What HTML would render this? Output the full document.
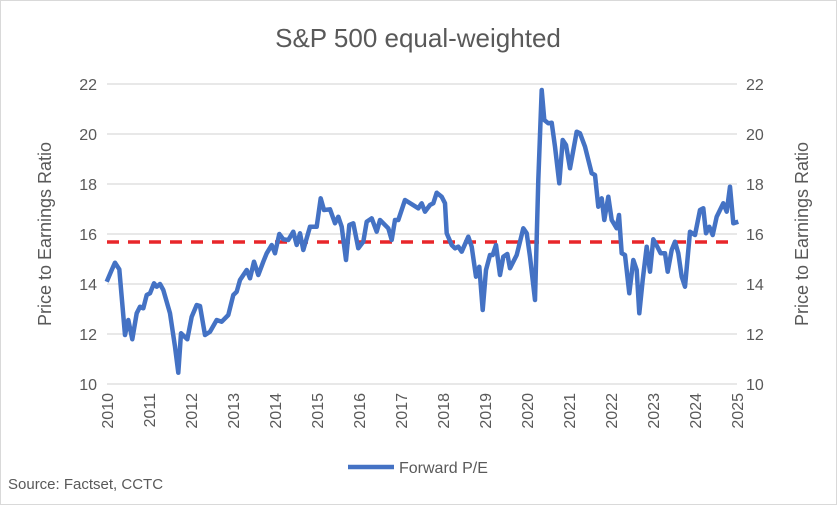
<!DOCTYPE html>
<html><head><meta charset="utf-8"><style>body{margin:0;background:#fff}svg{display:block}</style></head><body>
<svg width="837" height="505" xmlns="http://www.w3.org/2000/svg" font-family="Liberation Sans, sans-serif" fill="#595959">
<rect x="0.5" y="0.5" width="836" height="504" fill="#fff" stroke="#d9d9d9"/>
<text x="418" y="47" font-size="26" text-anchor="middle">S&amp;P 500 equal-weighted</text>
<g stroke="#d9d9d9" stroke-width="1.3">
<line x1="107" x2="737" y1="84" y2="84"/><line x1="107" x2="737" y1="134" y2="134"/><line x1="107" x2="737" y1="184" y2="184"/><line x1="107" x2="737" y1="234" y2="234"/><line x1="107" x2="737" y1="284" y2="284"/><line x1="107" x2="737" y1="334" y2="334"/><line x1="107" x2="737" y1="384" y2="384"/>
</g>
<g font-size="16" text-anchor="end">
<text x="97" y="90">22</text><text x="97" y="140">20</text><text x="97" y="190">18</text><text x="97" y="240">16</text><text x="97" y="290">14</text><text x="97" y="340">12</text><text x="97" y="390">10</text>
</g>
<g font-size="16" text-anchor="start">
<text x="746" y="90">22</text><text x="746" y="140">20</text><text x="746" y="190">18</text><text x="746" y="240">16</text><text x="746" y="290">14</text><text x="746" y="340">12</text><text x="746" y="390">10</text>
</g>
<text transform="translate(51,234) rotate(-90)" font-size="18" text-anchor="middle">Price to Earnings Ratio</text>
<text transform="translate(808,234) rotate(-90)" font-size="18" text-anchor="middle">Price to Earnings Ratio</text>
<g font-size="16" text-anchor="end">
<text transform="translate(113,393) rotate(-90)">2010</text><text transform="translate(155,393) rotate(-90)">2011</text><text transform="translate(197,393) rotate(-90)">2012</text><text transform="translate(239,393) rotate(-90)">2013</text><text transform="translate(281,393) rotate(-90)">2014</text><text transform="translate(323,393) rotate(-90)">2015</text><text transform="translate(365,393) rotate(-90)">2016</text><text transform="translate(407,393) rotate(-90)">2017</text><text transform="translate(449,393) rotate(-90)">2018</text><text transform="translate(491,393) rotate(-90)">2019</text><text transform="translate(533,393) rotate(-90)">2020</text><text transform="translate(575,393) rotate(-90)">2021</text><text transform="translate(617,393) rotate(-90)">2022</text><text transform="translate(659,393) rotate(-90)">2023</text><text transform="translate(701,393) rotate(-90)">2024</text><text transform="translate(743,393) rotate(-90)">2025</text>
</g>
<line x1="107" x2="737" y1="242" y2="242" stroke="#e8262a" stroke-width="3.5" stroke-dasharray="12,9"/>
<polyline fill="none" stroke="#4472c4" stroke-width="4.5" stroke-linejoin="round" points="106.7,281.7 111.7,270 115,262.7 119.3,269.3 125,335 128.3,320 132.3,339.3 136.7,313.3 140,306.7 143.3,308.3 146.7,295 150,293.3 154,283.3 156.7,286.7 160,284 163.3,290 170,313.3 175,346.7 178.3,372.7 181,333.3 187.3,339.3 191.7,316.7 196.7,305 200,306 205,335 210,331.7 216.7,320 221.7,321.7 228.3,315 233.3,295 236.7,291.7 240,280 246.7,270 250,278.3 254,261.7 258.3,275 263.3,261.7 266.7,253.3 271.7,245 275,253.3 279.3,234 283.3,239.3 288.3,240 293.3,231.7 296.7,245 300,233.3 303.3,250 310,226.7 316.7,226.7 320.7,198.3 324,210 330,209.3 335,223.3 338.3,216.7 341.7,226.7 346,260 349.3,225 353.3,223.3 358.3,248.3 363.3,241.7 366.7,221.7 371.7,218.3 376.7,231.7 380,220 388.3,228.3 391.7,240 395,220 398.3,220 405,200 418.3,208.3 421.7,203.3 425,211.7 430,205 433.3,203.3 436.7,192.7 441.7,196.7 445,203.3 446.7,233.3 451.7,245 455,248.3 458.3,246.7 461.7,251.7 468.3,236.7 471.7,246.7 476,276.7 479.3,266.7 482.7,310 486,270 490,255 492.7,255 496,245 500,275 503.3,256.7 507.3,254 510,268.3 516.7,255 523.3,228.3 526.7,233.3 530,256.7 535,300 538.3,180 541.7,90 544.3,120 548.3,123.3 551.7,122.7 555,146.7 559.3,183.3 562.7,140 566,145 570,168.3 576.7,131.7 580,133.3 585,146.7 591.7,173.3 595,175 598.3,206.7 601.7,198.3 604.3,220 608.3,196.7 611.7,220 616.7,228.3 619,215 621.7,253.3 625,255 629.3,293.3 633.3,260 636.7,270 639.3,313.3 642.7,280 646.7,246.7 650,271.7 653.3,239.3 657.3,246.7 660.7,253.3 665,253.3 667.7,271.7 671.7,250 675,241.7 678.3,253.3 681.7,276.7 685,286.7 690,231.7 695,235 700,210 703.3,208.3 706,233.3 709.3,226.7 712.7,235 716.7,216.7 723.3,203.3 726.7,211.7 730,186.7 733.3,223.3 738.3,221.7"/>
<line x1="348" x2="394" y1="467" y2="467" stroke="#4472c4" stroke-width="4.5"/>
<text x="399" y="473" font-size="16">Forward P/E</text>
<text x="8" y="489" font-size="15">Source: Factset, CCTC</text>
</svg>
</body></html>
